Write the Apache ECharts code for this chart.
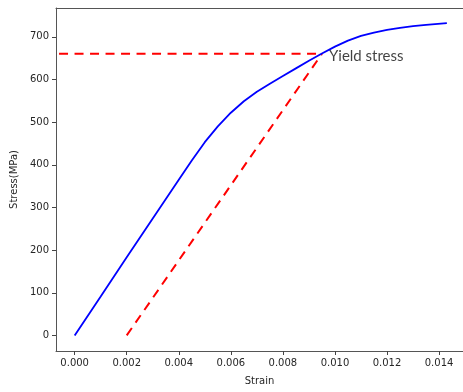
<!DOCTYPE html>
<html>
<head>
<meta charset="utf-8">
<script src="https://cdn.jsdelivr.net/npm/echarts@6/dist/echarts.min.js"></script>
<style>html,body{margin:0;padding:0;background:#fff}#c{width:463px;height:392px}</style>
</head>
<body>
<div id="c"></div>
<script>
var strain = [0, 0.001, 0.002, 0.003, 0.004, 0.0045, 0.005, 0.0055, 0.006, 0.0065, 0.007, 0.0075, 0.008, 0.0085, 0.009, 0.0095, 0.010, 0.0105, 0.011, 0.0115, 0.012, 0.0125, 0.013, 0.0135, 0.0143];
var stress = [0, 91, 183, 274, 365, 410, 453, 490, 522, 549, 571, 590, 608, 626, 644, 661, 677, 691, 702, 710, 716, 721, 725, 728, 732];
var yieldLineX = [-0.0006, 0.0095];
var yieldLineY = [660, 660];
var offsetLineX = [0.002, 0.0095];
var offsetLineY = [0, 660];
var yieldLabelPos = [0.0095, 660];
var yieldLabel = 'Yield stress';
var xTicks = [0, 0.002, 0.004, 0.006, 0.008, 0.010, 0.012, 0.014];
var xTickLabels = ['0.000', '0.002', '0.004', '0.006', '0.008', '0.010', '0.012', '0.014'];
var yTicks = [0, 100, 200, 300, 400, 500, 600, 700];
var yTickLabels = ['0', '100', '200', '300', '400', '500', '600', '700'];
var xName = 'Strain';
var yName = 'Stress(MPa)';

function zip(a, b) { return a.map(function (v, i) { return [v, b[i]]; }); }

var chart = echarts.init(document.getElementById('c'), null, { renderer: 'canvas' });
var tickFont = { fontFamily: 'DejaVu Sans', fontSize: 10, color: '#262626' };
var spine = { show: true, onZero: false, lineStyle: { color: '#555', width: 1 } };
chart.setOption({
  animation: false,
  grid: { left: 56, top: 8, right: 0, bottom: 41, show: false },
  xAxis: [{
    type: 'value', min: -0.000717, max: 0.01492, position: 'bottom',
    name: xName, nameLocation: 'middle', nameGap: 25,
    nameTextStyle: { fontFamily: 'DejaVu Sans', fontSize: 10, color: '#262626' },
    axisLine: spine,
    splitLine: { show: false },
    axisTick: { show: true, customValues: xTicks, length: 4, lineStyle: { color: '#444' } },
    axisLabel: Object.assign({ customValues: xTicks, margin: 7, formatter: function (v) { var i = xTicks.indexOf(v); return i >= 0 ? xTickLabels[i] : ''; } }, tickFont)
  }, {
    type: 'value', min: -0.000717, max: 0.01492, position: 'top',
    axisLine: spine, axisTick: { show: false }, axisLabel: { show: false }, splitLine: { show: false }
  }],
  yAxis: {
    type: 'value', min: -36.5, max: 767.5,
    name: yName, nameLocation: 'middle', nameGap: 36,
    nameTextStyle: { fontFamily: 'DejaVu Sans', fontSize: 10, color: '#262626' },
    axisLine: spine,
    splitLine: { show: false },
    axisTick: { show: true, customValues: yTicks, length: 4, lineStyle: { color: '#444' } },
    axisLabel: Object.assign({ customValues: yTicks, margin: 7, formatter: function (v) { var i = yTicks.indexOf(v); return i >= 0 ? yTickLabels[i] : ''; } }, tickFont)
  },
  series: [
    { type: 'line', data: zip(strain, stress), smooth: false, symbol: 'none', lineStyle: { color: '#0000ff', width: 1.8 }, z: 3 },
    { type: 'line', data: zip(yieldLineX, yieldLineY), symbol: 'none', lineStyle: { color: '#ff0000', width: 2, type: [9, 6.5] }, z: 2 },
    { type: 'line', data: zip(offsetLineX, offsetLineY), symbol: 'none', lineStyle: { color: '#ff0000', width: 2, type: [9, 6.5] }, z: 2 },
    { type: 'scatter', data: [yieldLabelPos], symbolSize: 0, silent: true,
      label: { show: true, position: 'right', distance: 7, offset: [0, 2], formatter: yieldLabel, fontFamily: 'Lato', fontSize: 15, color: '#111' } }
  ]
});
</script>
</body>
</html>
